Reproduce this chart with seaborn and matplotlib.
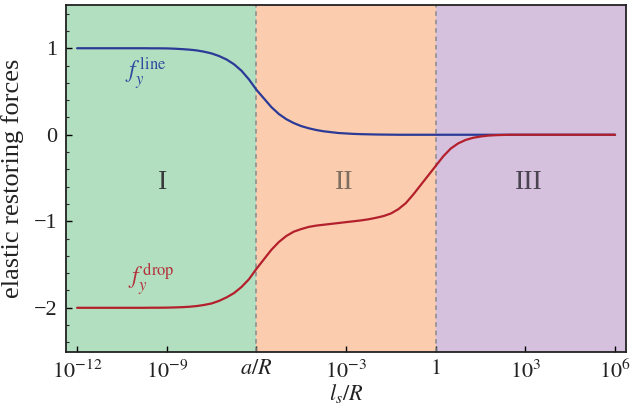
import numpy as np
import pandas as pd
import matplotlib
matplotlib.use("Agg")
import matplotlib.pyplot as plt
from matplotlib.ticker import FixedLocator, MultipleLocator
import seaborn as sns

# ---- data (every quarter decade) ----
log_x = [-12.0, -11.75, -11.5, -11.25, -11.0, -10.75, -10.5, -10.25, -10.0,
         -9.75, -9.5, -9.25, -9.0, -8.75, -8.5, -8.25, -8.0, -7.75, -7.5, -7.25,
         -7.0, -6.75, -6.5, -6.25, -6.0, -5.75, -5.5, -5.25, -5.0, -4.75, -4.5,
         -4.25, -4.0, -3.75, -3.5, -3.25, -3.0, -2.75, -2.5, -2.25, -2.0, -1.75,
         -1.5, -1.25, -1.0, -0.75, -0.5, -0.25, 0.0, 0.25, 0.5, 0.75, 1.0, 1.25,
         1.5, 1.75, 2.0, 2.25, 2.5, 2.75, 3.0, 3.25, 3.5, 3.75, 4.0, 4.25, 4.5,
         4.75, 5.0, 5.25, 5.5, 5.75, 6.0]
f_line = [1.0, 1.0, 1.0, 1.0, 1.0, 1.0, 1.0, 1.0, 1.0,
          1.0, 0.999, 0.999, 0.998, 0.995, 0.99, 0.984, 0.975, 0.96, 0.94, 0.91,
          0.87, 0.815, 0.74, 0.64, 0.52, 0.42, 0.32, 0.24, 0.18, 0.135, 0.10,
          0.075, 0.055, 0.04, 0.03, 0.02, 0.015, 0.01, 0.007, 0.005, 0.003, 0.002,
          0.001, 0.0, 0.0, 0.0, 0.0, 0.0, 0.0, 0.0, 0.0, 0.0, 0.0, 0.0,
          0.0, 0.0, 0.0, 0.0, 0.0, 0.0, 0.0, 0.0, 0.0, 0.0, 0.0, 0.0, 0.0,
          0.0, 0.0, 0.0, 0.0, 0.0, 0.0]
f_drop = [-2.0, -2.0, -2.0, -2.0, -2.0, -2.0, -2.0, -2.0, -2.0,
          -2.0, -1.999, -1.999, -1.998, -1.996, -1.993, -1.988, -1.98, -1.967, -1.95, -1.92,
          -1.88, -1.83, -1.76, -1.67, -1.55, -1.44, -1.33, -1.24, -1.17, -1.12, -1.09,
          -1.065, -1.05, -1.04, -1.03, -1.02, -1.01, -1.0, -0.99, -0.977, -0.96, -0.94,
          -0.91, -0.86, -0.79, -0.69, -0.58, -0.47, -0.36, -0.25, -0.16, -0.10, -0.06, -0.035,
          -0.02, -0.01, -0.005, -0.002, 0.0, 0.0, 0.0, 0.0, 0.0, 0.0, 0.0, 0.0, 0.0,
          0.0, 0.0, 0.0, 0.0, 0.0, 0.0]

region_bounds = [10**-12.37, 1e-6, 1.0, 10**6.37]
region_colors = ["#b3dfc1", "#fbcdae", "#d5c1de"]
region_names = ["I", "II", "III"]
region_label_x = [10**-9.15, 10**-3.05, 10**3.1]
region_label_colors = ["#3a3a3a", "#7d6e60", "#4a4350"]

tick_pos = [1e-12, 1e-9, 1e-6, 1e-3, 1.0, 1e3, 1e6]
tick_labels = [r"$10^{-12}$", r"$10^{-9}$", r"$a/R$", r"$10^{-3}$", r"$1$",
               r"$10^{3}$", r"$10^{6}$"]

df = pd.DataFrame({
    "x": np.power(10.0, log_x).tolist() * 2,
    "f": f_line + f_drop,
    "series": ["line"] * len(log_x) + ["drop"] * len(log_x),
})

sns.set_theme(style="ticks")
plt.rcParams["font.family"] = ["Liberation Serif", "DejaVu Serif"]
plt.rcParams["mathtext.fontset"] = "stix"

fig = plt.figure(figsize=(6.35, 4.15), dpi=100)
ax = fig.add_axes([0.104, 0.152, 0.882, 0.836])

for i in range(3):
    ax.axvspan(region_bounds[i], region_bounds[i + 1], color=region_colors[i],
               lw=0, zorder=0)
for xb in region_bounds[1:3]:
    ax.axvline(xb, color="#8a8a8a", ls=(0, (3, 2.5)), lw=1.1, zorder=1)

sns.lineplot(data=df, x="x", y="f", hue="series",
             palette={"line": "#2a3a96", "drop": "#b3202c"},
             hue_order=["line", "drop"], lw=1.6, legend=False, ax=ax,
             zorder=3, sort=False)

ax.set_xscale("log")
ax.set_xlim(region_bounds[0], region_bounds[-1])
ax.set_ylim(-2.51, 1.5)

ax.xaxis.set_major_locator(FixedLocator(tick_pos))
ax.set_xticklabels(tick_labels)
ax.xaxis.set_minor_locator(FixedLocator([]))
ax.yaxis.set_major_locator(FixedLocator([-2, -1, 0, 1]))
ax.set_yticklabels(["\u22122", "\u22121", "0", "1"])
ax.yaxis.set_minor_locator(MultipleLocator(0.2))

ax.tick_params(axis="both", which="major", direction="in", length=4, width=1.0,
               labelsize=16, color="black", labelcolor="#222222", pad=6)
ax.tick_params(axis="y", which="minor", direction="in", length=2.2, width=0.8)
ax.tick_params(top=False, right=False, which="both")
for s in ax.spines.values():
    s.set_linewidth(1.3)
    s.set_color("#222222")

ax.set_xlabel(r"$l_s/R$", fontsize=16, labelpad=-1, color="#222222")
ax.set_ylabel("elastic restoring forces", fontsize=19, labelpad=7, color="#222222")

ax.text(10**-10.4, 0.70, r"$f_y^{\,\mathrm{line}}$", color="#2e4a9e", fontsize=17,
        ha="left", va="center", zorder=4)
ax.text(10**-10.3, -1.68, r"$f_y^{\,\mathrm{drop}}$", color="#b3303a", fontsize=17,
        ha="left", va="center", zorder=4)

for xl, name, c in zip(region_label_x, region_names, region_label_colors):
    ax.text(xl, -0.55, name, color=c, fontsize=20, ha="center", va="center",
            zorder=4)

fig.savefig("out.png", dpi=100)
